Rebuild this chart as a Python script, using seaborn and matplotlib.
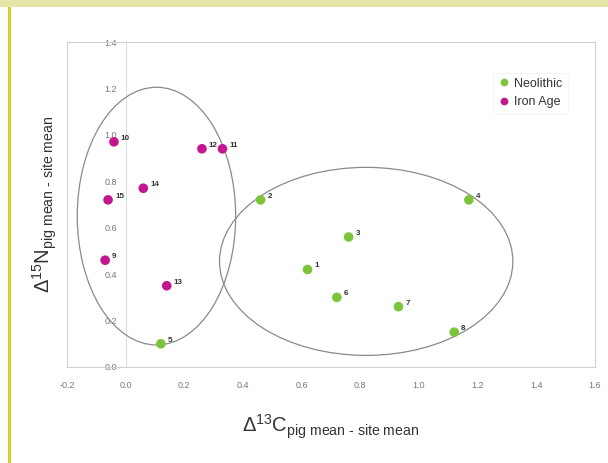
import pandas as pd
import matplotlib
matplotlib.use("Agg")
import matplotlib.pyplot as plt
from matplotlib.patches import Ellipse, Rectangle
import seaborn as sns

# values
neo_ids = ["1", "2", "3", "4", "5", "6", "7", "8"]
neo_dc = [0.62, 0.46, 0.76, 1.17, 0.12, 0.72, 0.93, 1.12]
neo_dn = [0.42, 0.72, 0.56, 0.72, 0.10, 0.30, 0.26, 0.15]

iron_ids = ["9", "10", "11", "12", "13", "14", "15"]
iron_dc = [-0.07, -0.04, 0.33, 0.26, 0.14, 0.06, -0.06]
iron_dn = [0.46, 0.97, 0.94, 0.94, 0.35, 0.77, 0.72]

periods = ["Neolithic", "Iron Age"]
colors = {"Neolithic": "#7cc43a", "Iron Age": "#c4168e"}

x_ticks = [-0.2, 0.0, 0.2, 0.4, 0.6, 0.8, 1.0, 1.2, 1.4, 1.6]
y_ticks = [0.0, 0.2, 0.4, 0.6, 0.8, 1.0, 1.2, 1.4]

df = pd.DataFrame({
    "id": neo_ids + iron_ids,
    "dC": neo_dc + iron_dc,
    "dN": neo_dn + iron_dn,
    "period": [periods[0]] * len(neo_ids) + [periods[1]] * len(iron_ids),
})

sns.set_style("white")
plt.rcParams["font.family"] = ["Liberation Sans", "DejaVu Sans"]
plt.rcParams["mathtext.fontset"] = "custom"
plt.rcParams["mathtext.rm"] = "Liberation Sans"
plt.rcParams["mathtext.it"] = "Liberation Sans"

fig = plt.figure(figsize=(6.08, 4.63), dpi=100)
fig.patch.set_facecolor("white")

# scan decorations: top band and left rule
fig.add_artist(Rectangle((0, 1 - 7 / 463), 1, 7 / 463, transform=fig.transFigure,
                         facecolor="#e3e6a6", edgecolor="none"))
fig.add_artist(Rectangle((8 / 608, 0), 3 / 608, 1 - 7 / 463, transform=fig.transFigure,
                         facecolor="#cbd22e", edgecolor="none"))

ax = fig.add_axes([67 / 608, 1 - 367 / 463, 528 / 608, 325 / 463])

# group ellipses drawn by hand on the original
ax.add_patch(Ellipse((0.105, 0.65), 0.54, 1.11, fill=False, edgecolor="#8a8a8a", lw=0.9))
ax.add_patch(Ellipse((0.82, 0.455), 1.0, 0.81, fill=False, edgecolor="#8a8a8a", lw=0.9))

sns.scatterplot(data=df, x="dC", y="dN", hue="period", hue_order=periods,
                palette=colors, s=48, edgecolor="none", ax=ax, zorder=3)

for _, row in df.iterrows():
    ax.annotate(row["id"], (row["dC"], row["dN"]), xytext=(5, 1.5),
                textcoords="offset points", fontsize=5.8, color="#333333",
                fontweight="bold")

ax.set_xlim(x_ticks[0], x_ticks[-1])
ax.set_ylim(y_ticks[0], y_ticks[-1])
ax.set_xticks(x_ticks)
ax.set_yticks(y_ticks)
ax.set_xticklabels([f"{t:.1f}" for t in x_ticks])
ax.set_yticklabels([f"{t:.1f}" for t in y_ticks])

# y axis crosses at x = 0, frame kept around the plot
ax.axvline(0, color="#dddddd", lw=0.8, zorder=0)
for s in ax.spines.values():
    s.set_color("#d0d0d0")
    s.set_linewidth(0.8)
ax.tick_params(axis="x", length=0, pad=10, labelsize=6.5, labelcolor="#777777")
ax.tick_params(axis="y", length=0, pad=-36, labelsize=6.5, labelcolor="#777777")

hy = "\u2010"
ax.set_xlabel(r"$\Delta^{13}\mathrm{C}_{\mathrm{pig\ mean\ " + hy + r"\ site\ mean}}$",
              fontsize=14.5, color="#333333", labelpad=16)
ax.set_ylabel(r"$\Delta^{15}\mathrm{N}_{\mathrm{pig\ mean\ " + hy + r"\ site\ mean}}$",
              fontsize=14.5, color="#333333", labelpad=6)

leg = ax.legend(loc="upper right", bbox_to_anchor=(0.96, 0.925), fontsize=9,
                frameon=True, handletextpad=0.3, borderpad=0.4, labelspacing=0.55,
                markerscale=0.8, handlelength=1.0)
leg.get_frame().set_edgecolor("#f0f0f0")
leg.get_frame().set_linewidth(0.6)
for t in leg.get_texts():
    t.set_color("#333333")

fig.savefig("out.png", dpi=100)
